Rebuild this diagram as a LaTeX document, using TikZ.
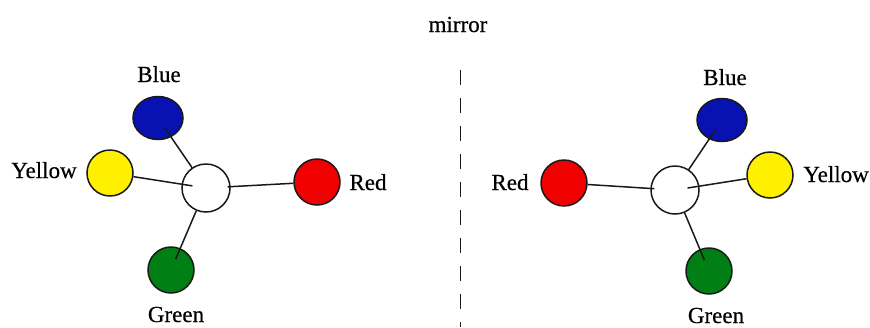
\documentclass[tikz,border=0pt]{standalone}
\usepackage{fontspec}
\setmainfont{Liberation Serif}
\newfontfamily\lblfont{Liberation Serif}[FakeBold=0.5]
\usetikzlibrary{shapes.geometric}
\definecolor{cblue}{RGB}{8,18,178}
\definecolor{cred}{RGB}{240,0,0}
\definecolor{cyellow}{RGB}{255,240,0}
\definecolor{cgreen}{RGB}{0,128,20}
\definecolor{cline}{RGB}{25,25,25}
\begin{document}
\begin{tikzpicture}[x=1pt,y=-1pt,
  ball/.style={circle,draw=cline,line width=1.5pt,inner sep=0pt,minimum size=46pt},
  hub/.style={circle,draw=cline,line width=1.5pt,fill=white,inner sep=0pt,minimum size=48pt},
  oval/.style={ellipse,draw=cline,line width=1.5pt,inner sep=0pt,minimum width=50pt,minimum height=43pt},
  bond/.style={draw=cline,line width=1.5pt},
  lbl/.style={inner sep=0pt,font=\fontsize{23}{27}\lblfont,text=black}]
\useasboundingbox (0,0) rectangle (870,327);
% mirror
\node[lbl,anchor=base] (mirror) at (458,32) {mirror};
\coordinate (mtop) at (460.5,70);
\coordinate (mbot) at (460.5,327);
\draw[cline,line width=1.8pt,dash pattern=on 15pt off 13pt] (mtop) -- (mbot);
% left molecule
\node[hub] (cL) at (206,188) {};
\node[oval,fill=cblue] (bL) at (158,118) {};
\node[ball,fill=cyellow] (yL) at (110,173) {};
\node[ball,fill=cred] (rL) at (317,182) {};
\node[ball,fill=cgreen] (gL) at (171,270) {};
\draw[bond,shorten >=-12pt] (cL) -- (bL);
\draw[bond,shorten >=-11pt] (yL) -- (cL);
\draw[bond,shorten <=-3pt] (cL) -- (rL);
\draw[bond,shorten >=-12pt] (cL) -- (gL);
\node[lbl,anchor=base] (tbL) at (159,82) {Blue};
\node[lbl,anchor=base] (tyL) at (44,178) {Yellow};
\node[lbl,anchor=base] (trL) at (368,190) {Red};
\node[lbl,anchor=base] (tgL) at (176,322) {Green};
% right molecule
\node[hub] (cR) at (675,190) {};
\node[oval,fill=cblue] (bR) at (722,120) {};
\node[ball,fill=cyellow] (yR) at (770,175) {};
\node[ball,fill=cred] (rR) at (564,183) {};
\node[ball,fill=cgreen] (gR) at (709,271) {};
\draw[bond,shorten >=-4pt] (rR) -- (cR);
\draw[bond,shorten <=-12pt] (cR) -- (yR);
\draw[bond,shorten >=-12pt] (cR) -- (bR);
\draw[bond,shorten >=-12pt] (cR) -- (gR);
\node[lbl,anchor=base] (tbR) at (725,85) {Blue};
\node[lbl,anchor=base east] (tyR) at (869,182) {Yellow};
\node[lbl,anchor=base] (trR) at (510,190) {Red};
\node[lbl,anchor=base] (tgR) at (716,323) {Green};
\end{tikzpicture}
\end{document}
